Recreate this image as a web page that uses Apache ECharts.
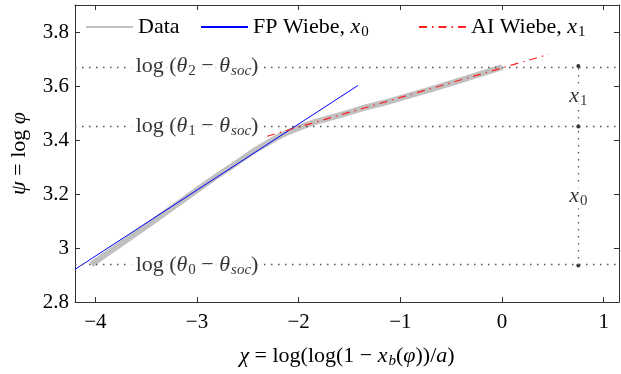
<!DOCTYPE html>
<html>
<head>
<meta charset="utf-8">
<script src="https://cdn.jsdelivr.net/npm/echarts@6/dist/echarts.min.js"></script>
<style>
html, body { margin: 0; padding: 0; background: #fff; }
#chart { width: 621px; height: 374px; }
</style>
</head>
<body>
<div id="chart"></div>
<script>
// measured data (gray thick curve)
var dataChi = [-4.04, -3.5, -3.0, -2.8, -2.6, -2.43, -2.3, -2.2, -2.1, -1.95, -1.85, -1.55, -1.36, -1.17, -0.71, -0.35, 0];
var dataPsi = [2.939, 3.08, 3.215, 3.268, 3.318, 3.362, 3.39, 3.412, 3.43, 3.452, 3.465, 3.497, 3.519, 3.537, 3.587, 3.628, 3.67];
// fitted lines, end points
var fpChi = [-4.2, -1.417];
var fpPsi = [2.921, 3.602];
var aiChi = [-2.31, 0.456];
var aiPsi = [3.414, 3.717];
// theta levels (theta0, theta1, theta2) and the x marker position
var levels = [2.935, 3.45, 3.674];
var levelLabels = ['0', '1', '2'];
var markChi = 0.75;
var labelChi = -3;
var xTicks = [-4, -3, -2, -1, 0, 1];
var yTicks = [2.8, 3, 3.2, 3.4, 3.6, 3.8];

var font = 'Liberation Serif';
var ink = '#000';
var fs = 22;
var rich = {
	it: { fontFamily: font, fontStyle: 'italic', fontSize: fs, color: ink },
	sub: { fontFamily: font, fontSize: 15, color: ink, padding: [10, 0, 0, 1] },
	subit: { fontFamily: font, fontStyle: 'italic', fontSize: 15, color: ink, padding: [10, 0, 0, 1] }
};
function pairs(xs, ys) {
	return xs.map(function (x, i) { return [x, ys[i]]; });
}
function minus(v) {
	return v < 0 ? '\u2212' + Math.abs(v) : String(v);
}
var legendNames = { 'Data': 'Data', 'FP Wiebe, x0': 'FP Wiebe, {it|x}{sub|0}', 'AI Wiebe, x1': 'AI Wiebe, {it|x}{sub|1}' };
var axisLineStyle = { onZero: false, lineStyle: { color: '#333' } };

var chart = echarts.init(document.getElementById('chart'));
var option = {
	animation: false,
	textStyle: { fontFamily: font, color: ink },
	grid: { left: 68, right: 2, top: 5, bottom: 63 },
	legend: ['Data', 'FP Wiebe, x0', 'AI Wiebe, x1'].map(function (n, i) {
		return {
			data: [n],
			left: [85, 200, 418][i],
			top: 16,
			padding: 0,
			itemWidth: 47,
			itemHeight: 14,
			itemStyle: { opacity: 0 },
			textStyle: { fontFamily: font, fontSize: fs, color: ink, rich: rich },
			formatter: function (name) { return legendNames[name]; }
		};
	}),
	xAxis: [{
		type: 'value', min: -4.2, max: 1.15, position: 'bottom',
		name: '{it|χ} = log(log(1 − {it|x}{subit|b}({it|φ}))/{it|a})',
		nameLocation: 'middle', nameGap: 42,
		nameTextStyle: { fontFamily: font, fontSize: fs, color: ink, rich: rich },
		axisLine: axisLineStyle,
		axisTick: { inside: true, length: 5, lineStyle: { color: '#333' }, customValues: xTicks },
		axisLabel: { fontFamily: font, fontSize: 21, color: ink, margin: 10, customValues: xTicks, formatter: minus },
		splitLine: { show: false }
	}, {
		type: 'value', min: -4.2, max: 1.15, position: 'top',
		axisLine: axisLineStyle,
		axisTick: { inside: true, length: 5, lineStyle: { color: '#333' }, customValues: xTicks },
		axisLabel: { show: false },
		splitLine: { show: false }
	}],
	yAxis: [{
		type: 'value', min: 2.8, max: 3.9, position: 'left',
		name: '{it|ψ} = log {it|φ}',
		nameLocation: 'middle', nameGap: 45, nameRotate: 90,
		nameTextStyle: { fontFamily: font, fontSize: fs, color: ink, rich: rich },
		axisLine: axisLineStyle,
		axisTick: { inside: true, length: 5, lineStyle: { color: '#333' }, customValues: yTicks },
		axisLabel: { fontFamily: font, fontSize: 21, color: ink, margin: 6, customValues: yTicks },
		splitLine: { show: false }
	}, {
		type: 'value', min: 2.8, max: 3.9, position: 'right',
		axisLine: axisLineStyle,
		axisTick: { inside: true, length: 5, lineStyle: { color: '#333' }, customValues: yTicks },
		axisLabel: { show: false },
		splitLine: { show: false }
	}],
	series: [{
		// dotted guides
		type: 'line', data: [], z: 1, silent: true,
		markLine: {
			symbol: 'none', silent: true, label: { show: false },
			lineStyle: { color: '#555', width: 1.3, type: [1.5, 5.5] },
			data: levels.map(function (v) { return { yAxis: v }; }).concat([
				[{ coord: [markChi, levels[0]] }, { coord: [markChi, levels[2]] }]
			])
		}
	}, {
		name: 'Data', type: 'line', z: 2, symbol: 'none',
		lineStyle: { color: '#c0c0c0', width: 6 }, itemStyle: { color: '#c0c0c0' },
		data: pairs(dataChi, dataPsi)
	}, {
		name: 'FP Wiebe, x0', type: 'line', z: 3, symbol: 'none',
		lineStyle: { color: '#0000ff', width: 1 }, itemStyle: { color: '#0000ff' },
		data: pairs(fpChi, fpPsi)
	}, {
		name: 'AI Wiebe, x1', type: 'line', z: 3, symbol: 'none',
		lineStyle: { color: '#ff2020', width: 1.2, type: [8, 5, 1.5, 5] }, itemStyle: { color: '#ff2020' },
		data: pairs(aiChi, aiPsi)
	}, {
		// black marker dots
		type: 'scatter', z: 4, symbolSize: 4, itemStyle: { color: '#000' },
		data: levels.map(function (v) { return [markChi, v]; })
	}, {
		// level annotations
		type: 'scatter', z: 5, symbolSize: 0,
		label: {
			show: true, position: 'inside', fontFamily: font, fontSize: fs, color: ink,
			backgroundColor: '#fff', padding: [0, 5], rich: rich,
			formatter: function (p) {
				return 'log ({it|θ}{sub|' + levelLabels[p.dataIndex] + '} − {it|θ}{subit|soc})';
			}
		},
		data: levels.map(function (v) { return [labelChi, v]; })
	}, {
		// x0 / x1 labels
		type: 'scatter', z: 5, symbolSize: 0,
		label: {
			show: true, position: 'inside', fontFamily: font, fontSize: fs, color: ink,
			backgroundColor: '#fff', padding: [0, 1], rich: rich,
			formatter: function (p) { return '{it|x}{sub|' + p.dataIndex + '}'; }
		},
		data: [[markChi, (levels[0] + levels[1]) / 2], [markChi, (levels[1] + levels[2]) / 2]]
	}]
};
chart.setOption(option);
</script>
</body>
</html>
